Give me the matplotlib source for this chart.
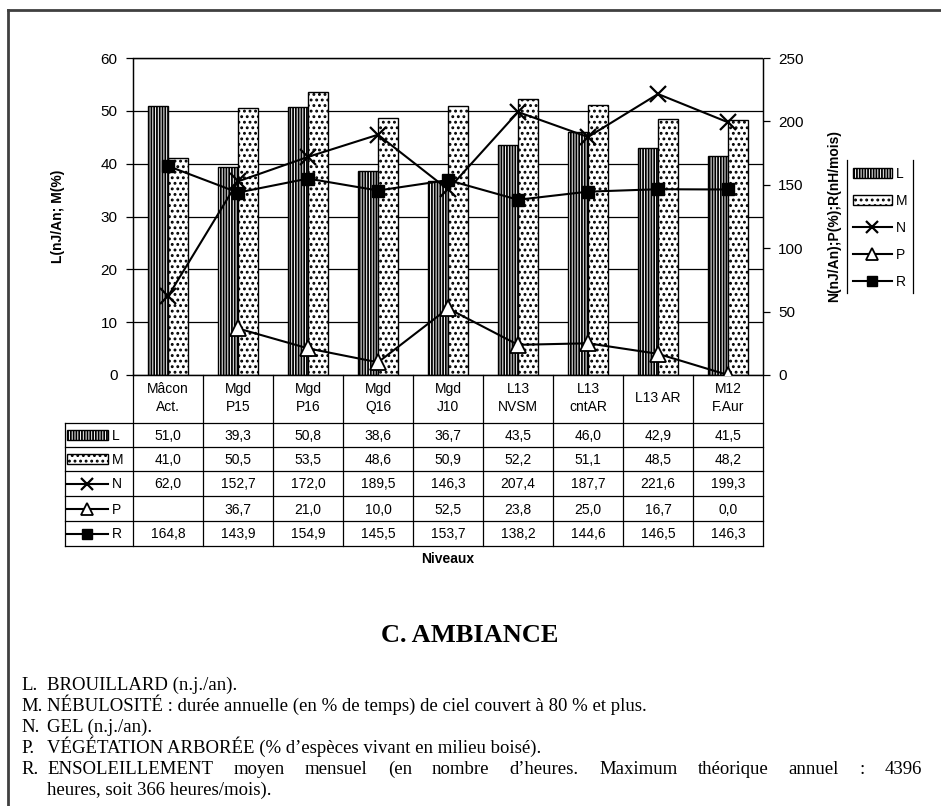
import matplotlib
matplotlib.use('Agg')
import matplotlib.pyplot as plt
import numpy as np
from matplotlib.patches import Rectangle
from matplotlib.transforms import blended_transform_factory

# ---------------- data ----------------
categories = ["Mâcon\nAct.", "Mgd\nP15", "Mgd\nP16", "Mgd\nQ16", "Mgd\nJ10",
              "L13\nNVSM", "L13\ncntAR", "L13 AR", "M12\nF.Aur"]
L_vals = [51.0, 39.3, 50.8, 38.6, 36.7, 43.5, 46.0, 42.9, 41.5]
M_vals = [41.0, 50.5, 53.5, 48.6, 50.9, 52.2, 51.1, 48.5, 48.2]
N_vals = [62.0, 152.7, 172.0, 189.5, 146.3, 207.4, 187.7, 221.6, 199.3]
P_vals = [np.nan, 36.7, 21.0, 10.0, 52.5, 23.8, 25.0, 16.7, 0.0]
R_vals = [164.8, 143.9, 154.9, 145.5, 153.7, 138.2, 144.6, 146.5, 146.3]
series_names = ["L", "M", "N", "P", "R"]
left_ticks = [0, 10, 20, 30, 40, 50, 60]
right_ticks = [0, 50, 100, 150, 200, 250]
left_label = "L(nJ/An; M(%)"
right_label = "N(nJ/An);P(%);R(nH/mois)"
x_title = "Niveaux"
title = "C. AMBIANCE"
notes = [
    ("L.", "BROUILLARD (n.j./an)."),
    ("M.", "NÉBULOSITÉ : durée annuelle (en % de temps) de ciel couvert à 80 % et plus."),
    ("N.", "GEL (n.j./an)."),
    ("P.", "VÉGÉTATION ARBORÉE (% d\u2019espèces vivant en milieu boisé)."),
    ("R.", "ENSOLEILLEMENT moyen mensuel (en nombre d\u2019heures. Maximum théorique annuel : 4396"),
    ("", "heures, soit 366 heures/mois)."),
]

# ---------------- figure ----------------
W, H = 941, 806
plt.rcParams['font.family'] = ['Liberation Sans', 'DejaVu Sans']
plt.rcParams['hatch.linewidth'] = 1.3
fig = plt.figure(figsize=(W / 100, H / 100), dpi=100)

def fx(px):
    return px / W

def fy(py):
    return 1 - py / H

ax_l, ax_r, ax_t, ax_b = 133, 763, 58, 375
ax = fig.add_axes([fx(ax_l), fy(ax_b), fx(ax_r - ax_l), (ax_b - ax_t) / H])
ax2 = ax.twinx()

x = np.arange(len(categories))
bw = 0.29
ax.bar(x - bw, L_vals, width=bw, align='edge', facecolor='white',
       edgecolor='black', hatch='||||||', linewidth=1.0, zorder=2)
ax.bar(x, M_vals, width=bw, align='edge', facecolor='white',
       edgecolor='black', hatch='...', linewidth=1.0, zorder=2)
ax.set_xlim(-0.5, len(categories) - 0.5)
ax.set_ylim(0, 60)
ax.set_yticks(left_ticks)
ax.set_axisbelow(True)
ax.yaxis.grid(True, color='black', linewidth=0.9)
ax.set_xticks([])

ax2.plot(x, N_vals, color='black', lw=1.5, marker='x', markersize=11,
         markeredgewidth=1.6, zorder=3)
ax2.plot(x, P_vals, color='black', lw=1.5, marker='^', markersize=11,
         markerfacecolor='white', markeredgewidth=1.3, zorder=3)
ax2.plot(x, R_vals, color='black', lw=1.5, marker='s', markersize=9,
         markerfacecolor='black', zorder=3)
ax2.set_ylim(0, 250)
ax2.set_yticks(right_ticks)
ax2.set_xlim(-0.5, len(categories) - 0.5)

for a in (ax, ax2):
    for s in a.spines.values():
        s.set_linestyle((0, (1, 1)))
        s.set_linewidth(0.9)
        s.set_color('black')
    a.tick_params(axis='y', labelsize=11, length=5, width=0.9, pad=6, colors='black')

ax.set_ylabel(left_label, fontsize=10, fontweight='bold', labelpad=0)
ax.yaxis.set_label_coords((65 - ax_l) / (ax_r - ax_l), 0.5)
ax2.set_ylabel(right_label, fontsize=10, fontweight='bold')
ax2.yaxis.set_label_coords((827 - ax_l) / (ax_r - ax_l), 0.5)

# ---------------- overlay in pixel coordinates ----------------
ov = fig.add_axes([0, 0, 1, 1], zorder=5)
ov.set_xlim(0, W)
ov.set_ylim(H, 0)
ov.axis('off')
ov.patch.set_visible(False)

# outer frame
ov.plot([8, 8], [10, H], color='#404040', lw=2)
ov.plot([8, W], [10, 10], color='#404040', lw=2)

# data table (columns follow the axis data scale)
tr = blended_transform_factory(ax.transData, ov.transData)
row_edges = [423, 447, 471, 496, 521, 546]
key_left = 65
for ye in row_edges:
    ov.plot([key_left, ax_r], [ye, ye], color='black', lw=0.9)
for b in np.arange(-0.5, len(categories), 1.0):
    ov.plot([b, b], [ax_b, row_edges[-1]], color='black', lw=0.9, transform=tr)
ov.plot([key_left, key_left], [row_edges[0], row_edges[-1]], color='black', lw=0.9)

for i, c in enumerate(categories):
    ov.text(i, 398, c, transform=tr, ha='center', va='center', fontsize=10,
            linespacing=1.3)

table_rows = [L_vals, M_vals, N_vals, P_vals, R_vals]
for r, vals in enumerate(table_rows):
    yc = (row_edges[r] + row_edges[r + 1]) / 2
    for i, v in enumerate(vals):
        s = "" if np.isnan(v) else f"{v:.1f}".replace('.', ',')
        ov.text(i, yc + 1, s, transform=tr, ha='center', va='center', fontsize=10)

def draw_key(kind, x0, x1, yc):
    if kind == 'L':
        ov.add_patch(Rectangle((x0, yc - 5), x1 - x0, 10, facecolor='white',
                               edgecolor='black', hatch='||||||', lw=1.0))
    elif kind == 'M':
        ov.add_patch(Rectangle((x0, yc - 5), x1 - x0, 10, facecolor='white',
                               edgecolor='black', hatch='...', lw=1.0))
    else:
        mk = {'N': dict(marker='x', markersize=8, markeredgewidth=1.6),
              'P': dict(marker='^', markersize=8, markerfacecolor='white',
                        markeredgewidth=1.3),
              'R': dict(marker='s', markersize=7, markerfacecolor='black')}[kind]
        ov.plot([x0, x1], [yc, yc], color='black', lw=1.5)
        ov.plot([(x0 + x1) / 2], [yc], color='black', **mk)

for r, name in enumerate(series_names):
    yc = (row_edges[r] + row_edges[r + 1]) / 2
    draw_key(name, 67, 108, yc)
    ov.text(112, yc + 1, name, ha='left', va='center', fontsize=10)

ov.text(448, 559, x_title, ha='center', va='center', fontsize=10, fontweight='bold')

# right legend
leg_y = [173, 200, 227, 254, 281]
ov.plot([847, 847], [160, 293], color='black', lw=0.9)
ov.plot([913, 913], [160, 293], color='black', lw=0.9)
for name, yc in zip(series_names, leg_y):
    draw_key(name, 853, 892, yc)
    ov.text(896, yc + 1, name, ha='left', va='center', fontsize=10)

# title and notes
serif = ['Liberation Serif', 'DejaVu Serif']
ov.text(470, 636, title, ha='center', va='center', fontsize=19,
        fontweight='bold', family=serif)

note_fs = 13.5
line_base = [690, 711, 732, 753, 774, 795]
fig.canvas.draw()
renderer = fig.canvas.get_renderer()
for (lab, body), yy in zip(notes, line_base):
    xs = 47
    if lab:
        lt = ov.text(21, yy, lab, ha='left', va='baseline', fontsize=note_fs, family=serif)
        lend = 21 + lt.get_window_extent(renderer).width
        xs = max(47, lend + 3)
    if lab == "R.":
        words = body.split(' ')
        tws = [ov.text(0, yy, w, ha='left', va='baseline', fontsize=note_fs,
                       family=serif) for w in words]
        widths = [t.get_window_extent(renderer).width for t in tws]
        right = 922
        gap = (right - xs - sum(widths)) / (len(words) - 1)
        cx = xs
        for t, wdt in zip(tws, widths):
            t.set_x(cx)
            cx += wdt + gap
    else:
        ov.text(xs, yy, body, ha='left', va='baseline', fontsize=note_fs, family=serif)

fig.savefig('out.png', dpi=100)
